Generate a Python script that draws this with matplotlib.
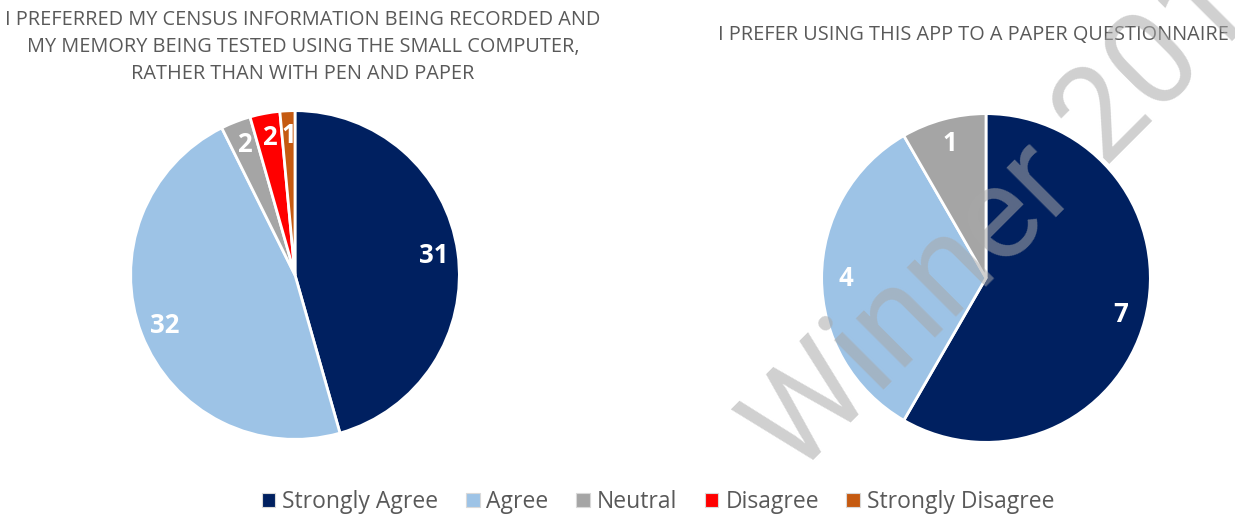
import matplotlib
matplotlib.use("Agg")
import matplotlib.pyplot as plt
from matplotlib.patches import Patch

plt.rcParams['font.family'] = ['Open Sans', 'DejaVu Sans']

categories = ['Strongly Agree', 'Agree', 'Neutral', 'Disagree', 'Strongly Disagree']
colors = ['#002060', '#9dc3e6', '#a5a5a5', '#ff0000', '#c55a11']

census_counts = [31, 32, 2, 2, 1]
app_counts = [7, 4, 1]

title_left = ('I PREFERRED MY CENSUS INFORMATION BEING RECORDED AND\n'
              'MY MEMORY BEING TESTED USING THE SMALL COMPUTER,\n'
              'RATHER THAN WITH PEN AND PAPER')
title_right = 'I PREFER USING THIS APP TO A PAPER QUESTIONNAIRE'

W, H = 1235, 518
fig = plt.figure(figsize=(W / 100, H / 100), dpi=100)
text_grey = '#595959'


def pie_axes(cx, cy, r):
    return fig.add_axes([(cx - r) / W, (H - cy - r) / H, 2 * r / W, 2 * r / H])


def draw_pie(ax, values):
    wedges, texts = ax.pie(values, colors=colors[:len(values)], startangle=90,
                           counterclock=False, labels=[str(v) for v in values],
                           labeldistance=0.85,
                           wedgeprops=dict(edgecolor='white', linewidth=2),
                           textprops=dict(color='white', fontsize=18.5,
                                          fontweight='bold', va='center'))
    for t in texts:
        t.set_horizontalalignment('center')
    ax.set_xlim(-1.01, 1.01)
    ax.set_ylim(-1.01, 1.01)
    ax.set_aspect('equal')
    return wedges


ax1 = pie_axes(295, 275, 166)
draw_pie(ax1, census_counts)
ax2 = pie_axes(986, 278, 166)
draw_pie(ax2, app_counts)

fig.text(303 / W, 1 - 47 / H, title_left, ha='center', va='center',
         fontsize=14.3, color=text_grey, linespacing=1.45)
fig.text(973 / W, 1 - 35 / H, title_right, ha='center', va='center',
         fontsize=14.3, color=text_grey)

handles = [Patch(facecolor=c, edgecolor='#d9d9d9', linewidth=0.8) for c in colors]
fig.legend(handles, categories, loc='center', bbox_to_anchor=(658 / W, 1 - 502 / H),
           ncol=5, frameon=False, fontsize=16.5, labelcolor=text_grey,
           handlelength=0.6, handleheight=0.6, handletextpad=0.3,
           columnspacing=1.2)

# watermark across the right-hand chart
fig.text(1002 / W, 1 - 220 / H, 'Winner 201', rotation=45, rotation_mode='anchor',
         ha='center', va='center', fontsize=94, fontweight='normal',
         family=['Roboto', 'DejaVu Sans'],
         color='#a8a8a8', alpha=0.54, zorder=10)

fig.savefig('out.png', dpi=100)
